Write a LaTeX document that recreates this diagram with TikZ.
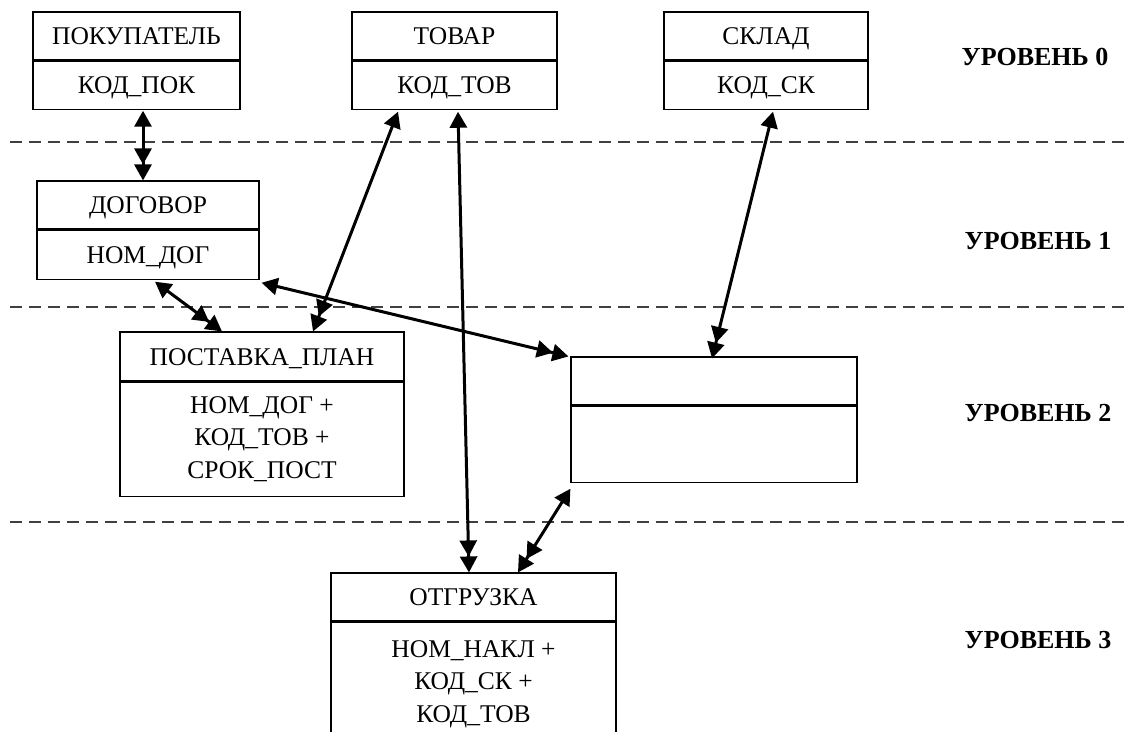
\documentclass[tikz,border=0pt]{standalone}
\usepackage{fontspec}
\setmainfont{Liberation Serif}
\usetikzlibrary{arrows.meta,positioning}
\begin{document}
\begin{tikzpicture}[x=1pt,y=-1pt,
  cell/.style={draw,line width=1.15pt,inner sep=0pt,align=center,
    font=\fontsize{25.5}{32.5}\selectfont},
  oneline/.style={text height=17pt,text depth=0pt},
  level/.style={font=\fontsize{26}{30}\selectfont\bfseries,inner sep=0pt},
  sep/.style={draw=black!75,line width=1.4pt,dash pattern=on 12pt off 7pt},
  link/.style={line width=3pt,{Triangle[length=16pt,width=17pt]}-{Triangle[length=16pt,width=17pt,sep=0pt]Triangle[length=16pt,width=17pt]}},
]
\useasboundingbox (0,0) rectangle (1127,731);
\clip (0,0) rectangle (1127,731);

% level separators
\draw[sep] (10,142) -- (1127,142);
\draw[sep] (10,307) -- (1127,307);
\draw[sep] (10,522) -- (1127,522);

% level 0
\node[cell,oneline,minimum width=207pt,minimum height=48pt] (pokt) at (136.5,36) {ПОКУПАТЕЛЬ};
\node[cell,oneline,minimum width=207pt,minimum height=48pt,below=0pt of pokt] (pokk) {КОД\_ПОК};
\node[cell,oneline,minimum width=205pt,minimum height=48pt] (tovt) at (454.5,36) {ТОВАР};
\node[cell,oneline,minimum width=205pt,minimum height=48pt,below=0pt of tovt] (tovk) {КОД\_ТОВ};
\node[cell,oneline,minimum width=204pt,minimum height=48pt] (skt) at (766,36) {СКЛАД};
\node[cell,oneline,minimum width=204pt,minimum height=48pt,below=0pt of skt] (skk) {КОД\_СК};

% level 1
\node[cell,oneline,minimum width=222pt,minimum height=48pt] (dogt) at (148,205) {ДОГОВОР};
\node[cell,oneline,minimum width=222pt,minimum height=49pt,below=0pt of dogt] (dogk) {НОМ\_ДОГ};

% level 2
\node[cell,oneline,minimum width=284pt,minimum height=49pt] (post) at (262,356.5) {ПОСТАВКА\_ПЛАН};
\node[cell,minimum width=284pt,minimum height=114pt,below=0pt of post] (posk)
  {НОМ\_ДОГ +\\КОД\_ТОВ +\\СРОК\_ПОСТ};
\node[cell,minimum width=286pt,minimum height=48pt] (emt) at (714,381) {};
\node[cell,minimum width=286pt,minimum height=76pt,below=0pt of emt] (emk) {};

% level 3
\node[cell,oneline,minimum width=285pt,minimum height=48pt] (otgt) at (473.5,597) {ОТГРУЗКА};
\node[cell,minimum width=285pt,minimum height=130pt,below=0pt of otgt] (otgk) {};
\node[font=\fontsize{25.5}{32.5}\selectfont,align=center,inner sep=0pt] (otgtxt) at (473.5,684)
  {НОМ\_НАКЛ +\\КОД\_СК +\\КОД\_ТОВ};

% level captions
\node[level] (l0) at (1035,57) {УРОВЕНЬ 0};
\node[level] (l1) at (1038,241) {УРОВЕНЬ 1};
\node[level] (l2) at (1038,413) {УРОВЕНЬ 2};
\node[level] (l3) at (1038,640) {УРОВЕНЬ 3};

% relationships (one end single, many end double)
\draw[link] ([xshift=6.5pt,yshift=-1pt]pokk.south) -- ([xshift=-5pt]dogt.north);
\draw[link] ([xshift=7pt,yshift=-2pt]dogk.south) -- ([xshift=-40pt]post.north);
\draw[link] ([xshift=-56.5pt,yshift=-2pt]tovk.south) -- ([xshift=51pt]post.north);
\draw[link] ([xshift=2pt,yshift=-3pt]dogk.south east) -- ([xshift=-2pt]emt.north west);
\draw[link] ([xshift=7pt,yshift=-2pt]skk.south) -- ([xshift=-2pt,yshift=-2pt]emt.north);
\draw[link] ([xshift=3.5pt,yshift=-2pt]tovk.south) -- ([xshift=-4.5pt]otgt.north);
\draw[link] ([yshift=-6pt]emk.south west) -- ([xshift=44.5pt]otgt.north);
\end{tikzpicture}
\end{document}
